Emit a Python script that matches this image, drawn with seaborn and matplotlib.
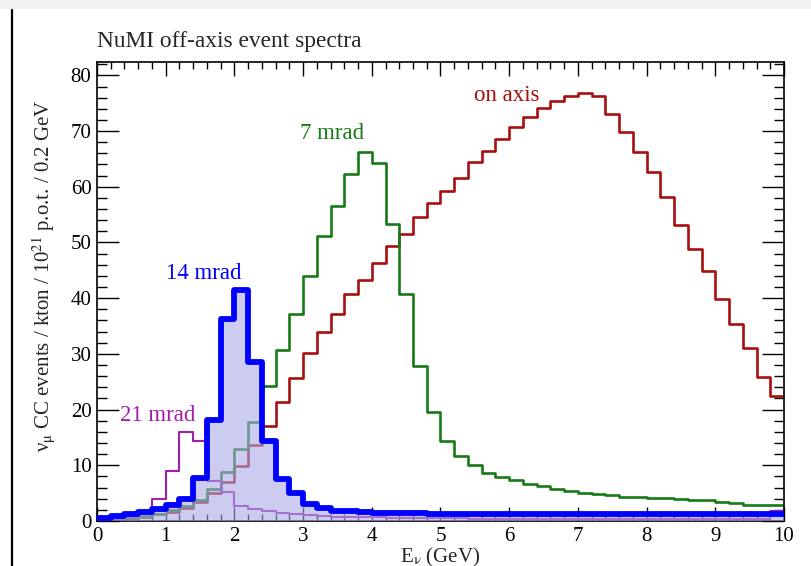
import numpy as np
import pandas as pd
import matplotlib
matplotlib.use('Agg')
import matplotlib.pyplot as plt
import seaborn as sns
from matplotlib.lines import Line2D
from matplotlib.patches import Rectangle
from matplotlib.ticker import MultipleLocator

# Bin edges: 50 bins of 0.2 GeV
bin_edges = [round(0.2 * i, 2) for i in range(51)]
bin_centers = [round(0.2 * i + 0.1, 2) for i in range(50)]

# Event counts per bin
on_axis = [0.2, 0.3, 0.5, 0.8, 1.2, 1.7, 2.3, 3.4, 5.1, 7.0,
           9.9, 13.7, 17.1, 21.3, 25.7, 30.1, 34.0, 37.2, 40.8, 43.3,
           46.4, 49.3, 51.5, 54.5, 57.1, 59.3, 61.5, 64.4, 66.5, 68.6,
           70.7, 72.6, 74.1, 75.4, 76.3, 76.9, 76.3, 73.1, 69.9, 66.2,
           62.7, 58.1, 53.1, 48.8, 44.9, 39.8, 35.3, 31.0, 25.9, 22.5]
mrad_7 = [0.3, 0.4, 0.6, 0.9, 1.3, 1.9, 2.7, 3.7, 5.7, 8.8,
          13.0, 17.8, 24.2, 30.7, 37.1, 44.0, 51.2, 56.6, 62.3, 66.3,
          64.2, 53.4, 40.7, 27.8, 19.5, 14.4, 11.7, 10.0, 8.7, 7.9,
          7.3, 6.7, 6.3, 5.7, 5.4, 5.1, 4.8, 4.6, 4.3, 4.3,
          4.1, 4.1, 3.9, 3.7, 3.7, 3.5, 3.2, 2.9, 2.9, 2.9]
mrad_14 = [0.6, 0.9, 1.2, 1.6, 2.2, 2.9, 4.0, 7.8, 18.2, 36.3,
           41.5, 28.6, 14.3, 7.5, 5.0, 3.1, 2.3, 1.8, 1.8, 1.6,
           1.5, 1.5, 1.5, 1.5, 1.3, 1.3, 1.3, 1.3, 1.3, 1.2,
           1.2, 1.2, 1.2, 1.2, 1.2, 1.2, 1.2, 1.2, 1.2, 1.2,
           1.2, 1.2, 1.2, 1.2, 1.2, 1.2, 1.2, 1.2, 1.2, 1.2]
mrad_21 = [0.2, 0.4, 0.8, 1.6, 3.9, 9.0, 16.0, 14.4, 7.2, 5.2,
           2.7, 2.1, 1.8, 1.4, 1.2, 1.0, 0.9, 0.8, 0.8, 0.7,
           0.7, 0.6, 0.6, 0.5, 0.5, 0.5, 0.5, 0.4, 0.4, 0.4,
           0.4, 0.4, 0.4, 0.4, 0.4, 0.4, 0.4, 0.4, 0.4, 0.4,
           0.4, 0.4, 0.4, 0.4, 0.4, 0.4, 0.4, 0.4, 0.4, 1.8]

df = pd.DataFrame({'E': bin_centers, 'on_axis': on_axis, 'mrad_7': mrad_7,
                   'mrad_14': mrad_14, 'mrad_21': mrad_21})

red = '#a80f0f'
green = '#167a16'
blue = '#0000ff'
purple = '#a21ea8'

sns.set_theme(style='ticks')
plt.rcParams['font.family'] = ['Liberation Serif', 'DejaVu Serif']
plt.rcParams['mathtext.fontset'] = 'stix'

fig = plt.figure(figsize=(8.12, 5.66), dpi=100)
ax = fig.add_axes([97 / 812, 45 / 566, 687 / 812, 459 / 566])

for col_name, col, lw in [('on_axis', red, 1.9), ('mrad_7', green, 1.9), ('mrad_21', purple, 1.5)]:
    sns.histplot(data=df, x='E', weights=col_name, bins=bin_edges, element='step',
                 fill=False, color=col, linewidth=lw, ax=ax, zorder=2)

# Semi-transparent 14 mrad fill on top, so lines beneath look muted
sns.histplot(data=df, x='E', weights='mrad_14', bins=bin_edges, element='step',
             fill=True, color=(0.667, 0.667, 0.914), alpha=0.6, linewidth=0, ax=ax, zorder=3)
sns.histplot(data=df, x='E', weights='mrad_14', bins=bin_edges, element='step',
             fill=False, color=blue, linewidth=4.2, ax=ax, zorder=4)

ax.set_xlim(0, 10)
ax.set_ylim(0, 82.4)

ax.xaxis.set_major_locator(MultipleLocator(1))
ax.xaxis.set_minor_locator(MultipleLocator(0.2))
ax.yaxis.set_major_locator(MultipleLocator(10))
ax.yaxis.set_minor_locator(MultipleLocator(2))
ax.tick_params(which='both', direction='in', top=True, right=True, colors='black',
               labelsize=15, width=1.0)
ax.tick_params(axis='x', which='major', length=10, pad=4)
ax.tick_params(axis='x', which='minor', length=5)
ax.tick_params(axis='y', which='major', length=15.5, pad=4)
ax.tick_params(axis='y', which='minor', length=7.5)
for s in ax.spines.values():
    s.set_linewidth(1.2)
    s.set_color('black')

ax.set_xlabel(r'E$_\mathrm{ν}$ (GeV)', fontsize=15, labelpad=0)
ax.set_ylabel(r'ν$_\mathrm{μ}$ CC events / kton / 10$^{21}$ p.o.t. / 0.2 GeV', fontsize=15)
ax.yaxis.set_label_coords(-0.058, 0.535)
fig.text(97 / 812, 1 - 42 / 566, 'NuMI off-axis event spectra', fontsize=16.8,
         ha='left', va='center')

ax.text(5.49, 76.3, 'on axis', color=red, fontsize=16.5, ha='left', va='center')
ax.text(2.95, 69.5, '7 mrad', color=green, fontsize=16.5, ha='left', va='center')
ax.text(1.0, 44.5, '14 mrad', color=blue, fontsize=16.5, ha='left', va='center')
ax.text(0.33, 19.0, '21 mrad', color=purple, fontsize=16.5, ha='left', va='center')

# Page border seen in the screenshot
fig.add_artist(Rectangle((0, 1 - 9 / 566), 1, 9 / 566, transform=fig.transFigure,
                         color='#f2f2f2', lw=0))
fig.add_artist(Line2D([12.5 / 812, 12.5 / 812], [0, 1 - 10 / 566],
                      transform=fig.transFigure, color='black', lw=1.6))

fig.savefig('out.png', dpi=100)
